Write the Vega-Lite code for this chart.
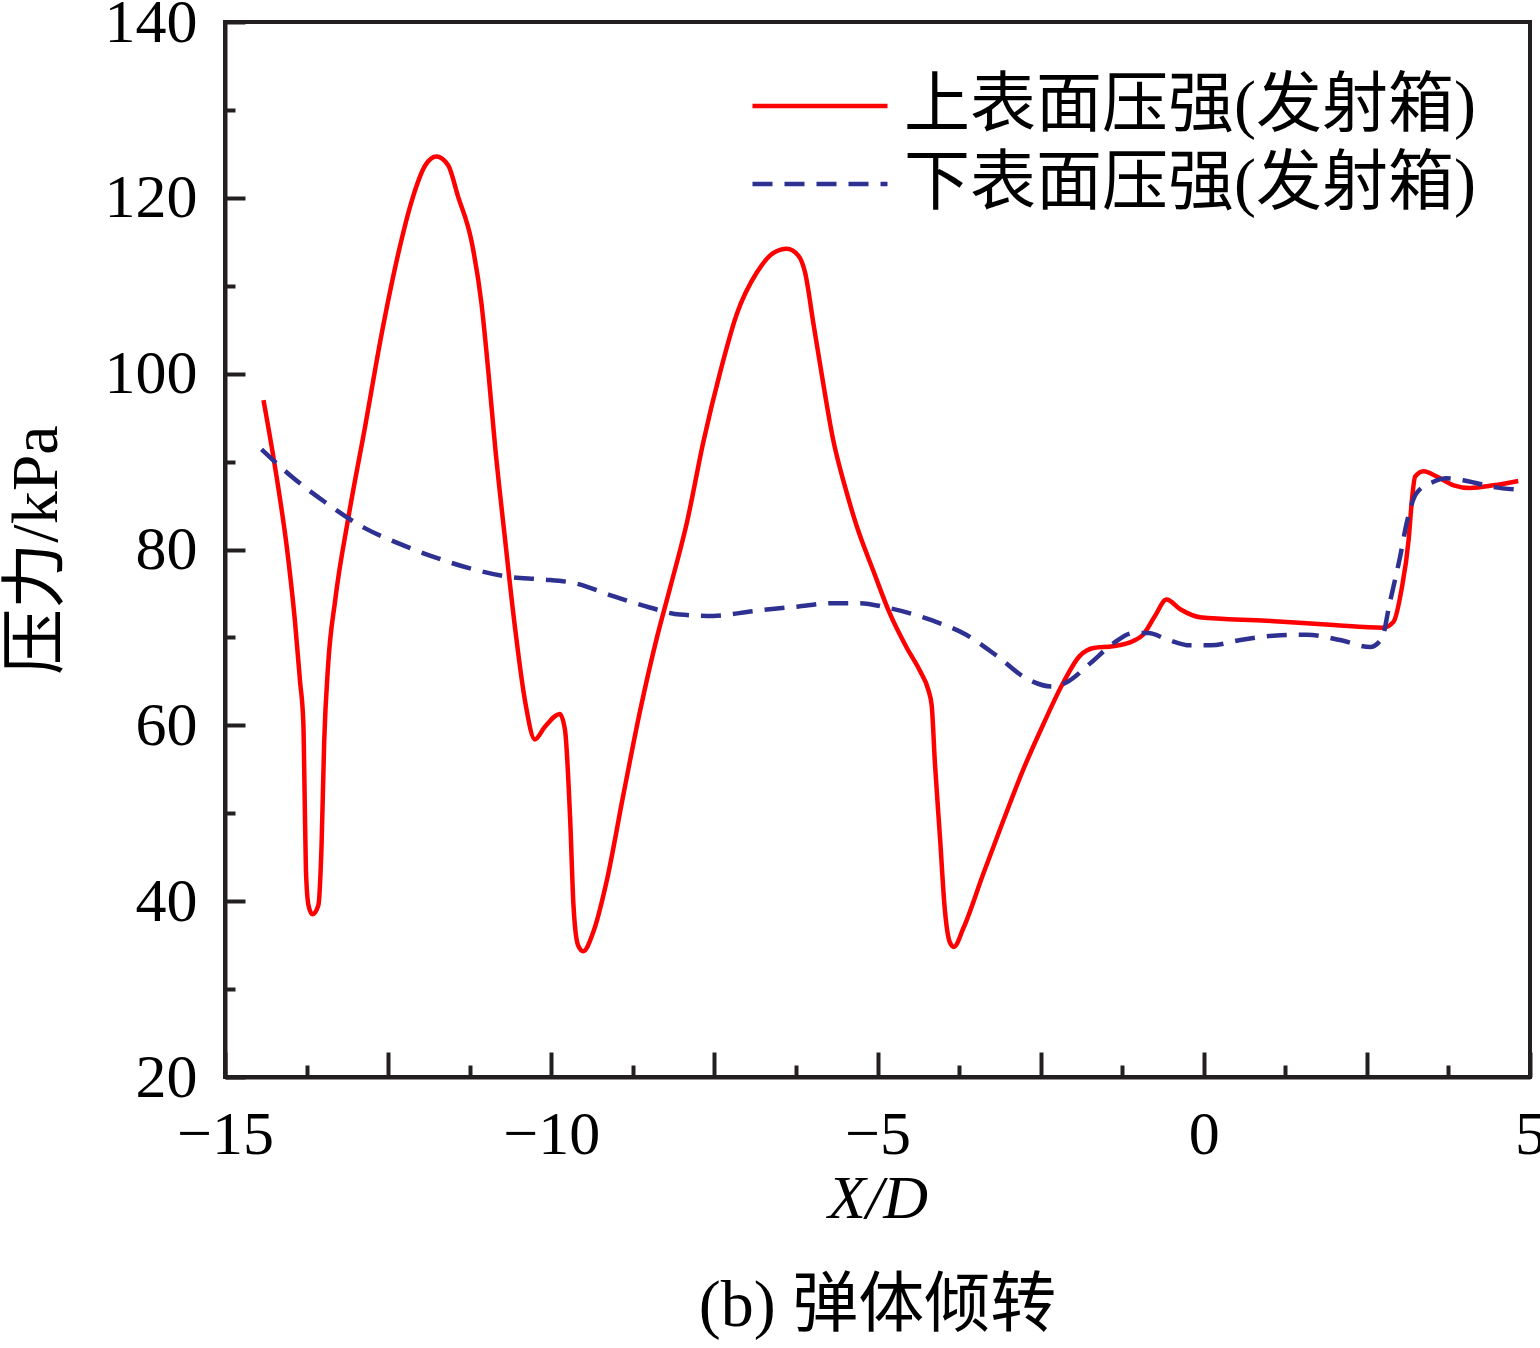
{
  "$schema": "https://vega.github.io/schema/vega-lite/v6.json",
  "width": 1305,
  "height": 1055,
  "autosize": {"type": "none"},
  "padding": {"left": 225, "top": 22, "right": 10, "bottom": 271},
  "background": "white",
  "config": {
    "view": {"stroke": "#231f20", "strokeWidth": 4},
    "font": "Liberation Serif, 'Noto Sans CJK SC'",
    "legend": {
      "orient": "none",
      "legendX": 525,
      "title": null,
      "symbolType": "stroke",
      "symbolSize": 18225,
      "symbolStrokeWidth": 4.5,
      "labelFont": "Liberation Serif, 'Noto Sans CJK SC'",
      "labelFontSize": 66,
      "labelColor": "#000000",
      "labelLimit": 1000,
      "labelOffset": 14
    }
  },
  "title": {
    "text": "(b) 弹体倾转",
    "orient": "bottom",
    "anchor": "middle",
    "font": "Liberation Serif, 'Noto Sans CJK SC'",
    "fontSize": 66,
    "fontWeight": "normal",
    "color": "#000000",
    "offset": 45
  },
  "data": {
    "values": [
      {"x": -14.41, "p": 97.0, "s": "上表面压强(发射箱)"},
      {"x": -14.21, "p": 88.3, "s": "上表面压强(发射箱)"},
      {"x": -14.05, "p": 80.1, "s": "上表面压强(发射箱)"},
      {"x": -13.93, "p": 72.0, "s": "上表面压强(发射箱)"},
      {"x": -13.85, "p": 65.0, "s": "上表面压强(发射箱)"},
      {"x": -13.8, "p": 60.4, "s": "上表面压强(发射箱)"},
      {"x": -13.78, "p": 52.3, "s": "上表面压强(发射箱)"},
      {"x": -13.76, "p": 43.6, "s": "上表面压强(发射箱)"},
      {"x": -13.72, "p": 39.5, "s": "上表面压强(发射箱)"},
      {"x": -13.66, "p": 38.5, "s": "上表面压强(发射箱)"},
      {"x": -13.57, "p": 39.5, "s": "上表面压强(发射箱)"},
      {"x": -13.52, "p": 46.4, "s": "上表面压强(发射箱)"},
      {"x": -13.48, "p": 58.1, "s": "上表面压强(发射箱)"},
      {"x": -13.42, "p": 66.8, "s": "上表面压强(发射箱)"},
      {"x": -13.31, "p": 74.3, "s": "上表面压强(发射箱)"},
      {"x": -13.11, "p": 83.6, "s": "上表面压强(发射箱)"},
      {"x": -12.85, "p": 94.1, "s": "上表面压强(发射箱)"},
      {"x": -12.6, "p": 104.5, "s": "上表面压强(发射箱)"},
      {"x": -12.34, "p": 113.8, "s": "上表面压强(发射箱)"},
      {"x": -12.14, "p": 119.6, "s": "上表面压强(发射箱)"},
      {"x": -11.93, "p": 123.7, "s": "上表面压强(发射箱)"},
      {"x": -11.76, "p": 124.7, "s": "上表面压强(发射箱)"},
      {"x": -11.58, "p": 123.7, "s": "上表面压强(发射箱)"},
      {"x": -11.43, "p": 120.2, "s": "上表面压强(发射箱)"},
      {"x": -11.22, "p": 115.0, "s": "上表面压强(发射箱)"},
      {"x": -11.07, "p": 108.0, "s": "上表面压强(发射箱)"},
      {"x": -10.96, "p": 99.9, "s": "上表面压强(发射箱)"},
      {"x": -10.86, "p": 91.7, "s": "上表面压强(发射箱)"},
      {"x": -10.71, "p": 81.3, "s": "上表面压强(发射箱)"},
      {"x": -10.56, "p": 71.4, "s": "上表面压强(发射箱)"},
      {"x": -10.4, "p": 62.7, "s": "上表面压强(发射箱)"},
      {"x": -10.25, "p": 58.4, "s": "上表面压强(发射箱)"},
      {"x": -10.1, "p": 59.8, "s": "上表面压强(发射箱)"},
      {"x": -9.87, "p": 61.3, "s": "上表面压强(发射箱)"},
      {"x": -9.79, "p": 59.5, "s": "上表面压强(发射箱)"},
      {"x": -9.71, "p": 49.3, "s": "上表面压强(发射箱)"},
      {"x": -9.66, "p": 39.6, "s": "上表面压强(发射箱)"},
      {"x": -9.59, "p": 35.0, "s": "上表面压强(发射箱)"},
      {"x": -9.51, "p": 34.3, "s": "上表面压强(发射箱)"},
      {"x": -9.36, "p": 36.4, "s": "上表面压强(发射箱)"},
      {"x": -9.15, "p": 42.3, "s": "上表面压强(发射箱)"},
      {"x": -8.9, "p": 51.9, "s": "上表面压强(发射箱)"},
      {"x": -8.64, "p": 61.6, "s": "上表面压强(发射箱)"},
      {"x": -8.38, "p": 70.0, "s": "上表面压强(发射箱)"},
      {"x": -8.18, "p": 75.6, "s": "上表面压强(发射箱)"},
      {"x": -7.92, "p": 83.1, "s": "上表面压强(发射箱)"},
      {"x": -7.67, "p": 92.2, "s": "上表面压强(发射箱)"},
      {"x": -7.41, "p": 100.2, "s": "上表面压强(发射箱)"},
      {"x": -7.16, "p": 106.7, "s": "上表面压强(发射箱)"},
      {"x": -6.85, "p": 111.5, "s": "上表面压强(发射箱)"},
      {"x": -6.6, "p": 113.7, "s": "上表面压强(发射箱)"},
      {"x": -6.39, "p": 114.2, "s": "上表面压强(发射箱)"},
      {"x": -6.21, "p": 113.4, "s": "上表面压强(发射箱)"},
      {"x": -6.11, "p": 111.5, "s": "上表面压强(发射箱)"},
      {"x": -5.98, "p": 105.6, "s": "上表面压强(发射箱)"},
      {"x": -5.83, "p": 98.8, "s": "上表面压强(发射箱)"},
      {"x": -5.68, "p": 92.5, "s": "上表面压强(发射箱)"},
      {"x": -5.5, "p": 87.2, "s": "上表面压强(发射箱)"},
      {"x": -5.32, "p": 82.7, "s": "上表面压强(发射箱)"},
      {"x": -5.06, "p": 77.5, "s": "上表面压强(发射箱)"},
      {"x": -4.81, "p": 72.7, "s": "上表面压强(发射箱)"},
      {"x": -4.55, "p": 68.8, "s": "上表面压强(发射箱)"},
      {"x": -4.35, "p": 66.2, "s": "上表面压强(发射箱)"},
      {"x": -4.22, "p": 64.0, "s": "上表面压强(发射箱)"},
      {"x": -4.17, "p": 62.3, "s": "上表面压强(发射箱)"},
      {"x": -4.12, "p": 55.7, "s": "上表面压强(发射箱)"},
      {"x": -4.04, "p": 47.0, "s": "上表面压强(发射箱)"},
      {"x": -3.97, "p": 39.2, "s": "上表面压强(发射箱)"},
      {"x": -3.89, "p": 35.3, "s": "上表面压强(发射箱)"},
      {"x": -3.83, "p": 34.8, "s": "上表面压强(发射箱)"},
      {"x": -3.68, "p": 37.0, "s": "上表面压强(发射箱)"},
      {"x": -3.38, "p": 43.1, "s": "上表面压强(发射箱)"},
      {"x": -3.07, "p": 49.2, "s": "上表面压强(发射箱)"},
      {"x": -2.77, "p": 54.9, "s": "上表面压强(发射箱)"},
      {"x": -2.46, "p": 60.1, "s": "上表面压强(发射箱)"},
      {"x": -2.15, "p": 64.9, "s": "上表面压强(发射箱)"},
      {"x": -1.9, "p": 67.9, "s": "上表面压强(发射箱)"},
      {"x": -1.69, "p": 68.8, "s": "上表面压强(发射箱)"},
      {"x": -1.39, "p": 69.0, "s": "上表面压强(发射箱)"},
      {"x": -1.08, "p": 69.6, "s": "上表面压强(发射箱)"},
      {"x": -0.93, "p": 70.3, "s": "上表面压强(发射箱)"},
      {"x": -0.75, "p": 72.4, "s": "上表面压强(发射箱)"},
      {"x": -0.57, "p": 74.3, "s": "上表面压强(发射箱)"},
      {"x": -0.36, "p": 73.2, "s": "上表面压强(发射箱)"},
      {"x": -0.06, "p": 72.3, "s": "上表面压强(发射箱)"},
      {"x": 0.96, "p": 71.9, "s": "上表面压强(发射箱)"},
      {"x": 1.99, "p": 71.4, "s": "上表面压强(发射箱)"},
      {"x": 2.75, "p": 71.1, "s": "上表面压强(发射箱)"},
      {"x": 2.91, "p": 71.8, "s": "上表面压强(发射箱)"},
      {"x": 3.03, "p": 75.4, "s": "上表面压强(发射箱)"},
      {"x": 3.14, "p": 81.1, "s": "上表面压强(发射箱)"},
      {"x": 3.19, "p": 85.6, "s": "上表面压强(发射箱)"},
      {"x": 3.24, "p": 88.3, "s": "上表面压强(发射箱)"},
      {"x": 3.37, "p": 88.9, "s": "上表面压强(发射箱)"},
      {"x": 3.57, "p": 88.3, "s": "上表面压强(发射箱)"},
      {"x": 3.83, "p": 87.3, "s": "上表面压强(发射箱)"},
      {"x": 4.08, "p": 87.0, "s": "上表面压强(发射箱)"},
      {"x": 4.44, "p": 87.3, "s": "上表面压强(发射箱)"},
      {"x": 4.82, "p": 87.8, "s": "上表面压强(发射箱)"},
      {"x": -14.44, "p": 91.4, "s": "下表面压强(发射箱)"},
      {"x": -13.98, "p": 88.3, "s": "下表面压强(发射箱)"},
      {"x": -13.47, "p": 85.4, "s": "下表面压强(发射箱)"},
      {"x": -12.85, "p": 82.4, "s": "下表面压强(发射箱)"},
      {"x": -12.34, "p": 80.7, "s": "下表面压强(发射箱)"},
      {"x": -11.78, "p": 79.1, "s": "下表面压强(发射箱)"},
      {"x": -11.22, "p": 77.8, "s": "下表面压强(发射箱)"},
      {"x": -10.66, "p": 76.9, "s": "下表面压强(发射箱)"},
      {"x": -10.15, "p": 76.6, "s": "下表面压强(发射箱)"},
      {"x": -9.66, "p": 76.2, "s": "下表面压强(发射箱)"},
      {"x": -9.05, "p": 74.7, "s": "下表面压强(发射箱)"},
      {"x": -8.49, "p": 73.4, "s": "下表面压强(发射箱)"},
      {"x": -8.03, "p": 72.6, "s": "下表面压强(发射箱)"},
      {"x": -7.52, "p": 72.45, "s": "下表面压强(发射箱)"},
      {"x": -6.9, "p": 73.0, "s": "下表面压强(发射箱)"},
      {"x": -6.24, "p": 73.5, "s": "下表面压强(发射箱)"},
      {"x": -5.68, "p": 73.9, "s": "下表面压强(发射箱)"},
      {"x": -5.27, "p": 73.9, "s": "下表面压强(发射箱)"},
      {"x": -4.86, "p": 73.4, "s": "下表面压强(发射箱)"},
      {"x": -4.15, "p": 71.9, "s": "下表面压强(发射箱)"},
      {"x": -3.64, "p": 70.3, "s": "下表面压强(发射箱)"},
      {"x": -3.17, "p": 67.9, "s": "下表面压强(发射箱)"},
      {"x": -2.71, "p": 65.3, "s": "下表面压强(发射箱)"},
      {"x": -2.31, "p": 64.4, "s": "下表面压强(发射箱)"},
      {"x": -2.1, "p": 64.9, "s": "下表面压强(发射箱)"},
      {"x": -1.74, "p": 67.05, "s": "下表面压强(发射箱)"},
      {"x": -1.39, "p": 69.3, "s": "下表面压强(发射箱)"},
      {"x": -1.08, "p": 70.5, "s": "下表面压强(发射箱)"},
      {"x": -0.85, "p": 70.5, "s": "下表面压强(发射箱)"},
      {"x": -0.57, "p": 69.8, "s": "下表面压强(发射箱)"},
      {"x": -0.21, "p": 69.1, "s": "下表面压强(发射箱)"},
      {"x": 0.1, "p": 69.1, "s": "下表面压强(发射箱)"},
      {"x": 0.56, "p": 69.7, "s": "下表面压强(发射箱)"},
      {"x": 1.07, "p": 70.2, "s": "下表面压强(发射箱)"},
      {"x": 1.58, "p": 70.3, "s": "下表面压强(发射箱)"},
      {"x": 2.09, "p": 69.7, "s": "下表面压强(发射箱)"},
      {"x": 2.55, "p": 68.9, "s": "下表面压强(发射箱)"},
      {"x": 2.73, "p": 69.9, "s": "下表面压强(发射箱)"},
      {"x": 2.85, "p": 73.9, "s": "下表面压强(发射箱)"},
      {"x": 3.01, "p": 79.2, "s": "下表面压强(发射箱)"},
      {"x": 3.11, "p": 83.0, "s": "下表面压强(发射箱)"},
      {"x": 3.26, "p": 86.4, "s": "下表面压强(发射箱)"},
      {"x": 3.52, "p": 87.7, "s": "下表面压强(发射箱)"},
      {"x": 3.72, "p": 88.1, "s": "下表面压强(发射箱)"},
      {"x": 4.03, "p": 87.8, "s": "下表面压强(发射箱)"},
      {"x": 4.44, "p": 87.1, "s": "下表面压强(发射箱)"},
      {"x": 4.82, "p": 86.8, "s": "下表面压强(发射箱)"}
    ]
  },
  "encoding": {
    "x": {
      "field": "x",
      "type": "quantitative",
      "scale": {"domain": [-15, 5], "nice": false, "zero": false},
      "axis": {
        "values": [-15, -13.75, -12.5, -11.25, -10, -8.75, -7.5, -6.25, -5, -3.75, -2.5, -1.25, 0, 1.25, 2.5, 3.75, 5],
        "labelExpr": "datum.value % 5 === 0 ? datum.label : ''",
        "tickSize": {"condition": {"test": "datum.value % 2.5 === 0", "value": -25}, "value": -12},
        "tickWidth": 4,
        "tickColor": "#231f20",
        "domainColor": "#231f20",
        "domainWidth": 4,
        "grid": false,
        "labelFontSize": 62,
        "labelColor": "#000000",
        "labelPadding": 52,
        "labelFlush": false,
        "labelOverlap": false,
        "title": "X/D",
        "titleFontStyle": "italic",
        "titleFontWeight": "normal",
        "titleFontSize": 62,
        "titleColor": "#000000",
        "titlePadding": -10
      }
    },
    "y": {
      "field": "p",
      "type": "quantitative",
      "scale": {"domain": [20, 140], "nice": false, "zero": false},
      "axis": {
        "values": [20, 30, 40, 50, 60, 70, 80, 90, 100, 110, 120, 130, 140],
        "labelExpr": "datum.value % 20 === 0 ? datum.label : ''",
        "tickSize": {"condition": {"test": "datum.value % 20 === 0", "value": -20}, "value": -10},
        "tickWidth": 4,
        "tickColor": "#231f20",
        "domainColor": "#231f20",
        "domainWidth": 4,
        "grid": false,
        "labelFontSize": 62,
        "labelColor": "#000000",
        "labelPadding": 48,
        "labelFlush": false,
        "labelOverlap": false,
        "title": "压力/kPa",
        "titleFontWeight": "normal",
        "titleFontSize": 66,
        "titleColor": "#000000",
        "titlePadding": 34
      }
    }
  },
  "layer": [
    {
      "transform": [{"filter": "datum.s === '上表面压强(发射箱)'"}],
      "mark": {"type": "line", "interpolate": "monotone", "strokeWidth": 4.5, "clip": true},
      "encoding": {
        "color": {
          "field": "s",
          "type": "nominal",
          "scale": {"domain": ["上表面压强(发射箱)"], "range": ["#ff0000"]},
          "legend": {"legendY": 14}
        }
      }
    },
    {
      "transform": [{"filter": "datum.s === '下表面压强(发射箱)'"}],
      "mark": {"type": "line", "interpolate": "monotone", "strokeWidth": 4.5, "strokeDash": [20, 12], "clip": true},
      "encoding": {
        "color": {
          "field": "s",
          "type": "nominal",
          "scale": {"domain": ["下表面压强(发射箱)"], "range": ["#2e3192"]},
          "legend": {"legendY": 92, "symbolDash": [20, 12]}
        }
      }
    }
  ],
  "resolve": {"scale": {"color": "independent"}, "legend": {"color": "independent"}}
}
